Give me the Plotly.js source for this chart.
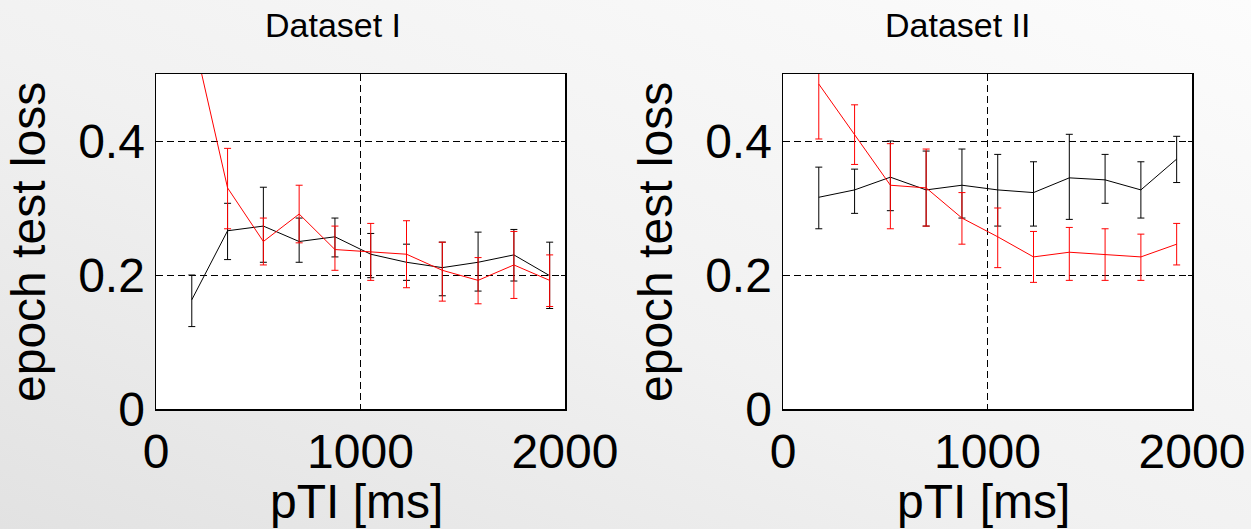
<!DOCTYPE html>
<html>
<head>
<meta charset="utf-8">
<script src="https://cdn.plot.ly/plotly-3.0.1.min.js"></script>
<style>
  html, body { margin: 0; padding: 0; }
  body {
    width: 1251px; height: 529px; overflow: hidden;
    background: linear-gradient(to top right, #e2e2e2 0%, #f1f1f1 45%, #fcfcfc 100%);
  }
  #chart { width: 1251px; height: 529px; }
</style>
</head>
<body>
<div id="chart"></div>
<script>
// ---- data ----
const pTI = [175, 350, 525, 700, 875, 1050, 1225, 1400, 1575, 1750, 1925];

// Dataset I
const d1Black      = [0.163, 0.266, 0.273, 0.250, 0.257, 0.231, 0.219, 0.211, 0.219, 0.230, 0.199];
const d1BlackPlus  = [0.037, 0.041, 0.058, 0.035, 0.028, 0.031, 0.027, 0.038, 0.045, 0.038, 0.050];
const d1BlackMinus = [0.040, 0.043, 0.054, 0.031, 0.030, 0.035, 0.027, 0.042, 0.043, 0.039, 0.049];
const d1Red        = [0.565, 0.330, 0.250, 0.291, 0.238, 0.234, 0.231, 0.207, 0.192, 0.215, 0.192];
const d1RedPlus    = [0.040, 0.059, 0.035, 0.043, 0.035, 0.043, 0.050, 0.042, 0.034, 0.050, 0.038];
const d1RedMinus   = [0.040, 0.061, 0.035, 0.043, 0.031, 0.042, 0.050, 0.046, 0.035, 0.050, 0.039];

// Dataset II
const d2Black      = [0.316, 0.327, 0.346, 0.327, 0.334, 0.327, 0.323, 0.345, 0.342, 0.327, 0.373];
const d2BlackPlus  = [0.045, 0.031, 0.054, 0.058, 0.054, 0.053, 0.046, 0.065, 0.038, 0.042, 0.034];
const d2BlackMinus = [0.047, 0.035, 0.050, 0.054, 0.049, 0.054, 0.050, 0.062, 0.035, 0.042, 0.035];
const d2Red        = [0.485, 0.410, 0.334, 0.330, 0.285, 0.257, 0.227, 0.234, 0.231, 0.227, 0.246];
const d2RedPlus    = [0.082, 0.044, 0.062, 0.058, 0.038, 0.043, 0.038, 0.037, 0.038, 0.034, 0.031];
const d2RedMinus   = [0.082, 0.045, 0.065, 0.057, 0.039, 0.046, 0.038, 0.042, 0.039, 0.035, 0.031];

const xTicks = [0, 1000, 2000];
const yTicks = [0, 0.2, 0.4];
const yTickText = ['0', '0.2', '0.4'];
const titles = ['Dataset I', 'Dataset II'];
const xLabel = 'pTI [ms]';
const yLabel = 'epoch test loss';

// ---- traces ----
function series(x, y, plus, minus, color, xa, ya) {
  return {
    type: 'scatter', mode: 'lines', x: x, y: y,
    xaxis: xa, yaxis: ya, cliponaxis: true,
    line: { color: color, width: 1 },
    error_y: { type: 'data', symmetric: false, array: plus, arrayminus: minus,
               color: color, thickness: 1, width: 3.5 },
    showlegend: false, hoverinfo: 'skip'
  };
}
const data = [
  series(pTI, d1Black, d1BlackPlus, d1BlackMinus, '#000000', 'x', 'y'),
  series(pTI, d1Red, d1RedPlus, d1RedMinus, '#ff0000', 'x', 'y'),
  series(pTI, d2Black, d2BlackPlus, d2BlackMinus, '#000000', 'x2', 'y2'),
  series(pTI, d2Red, d2RedPlus, d2RedMinus, '#ff0000', 'x2', 'y2')
];

const W = 1251, H = 529;
const font = 'Liberation Sans, Arial, sans-serif';
function xax(domain, anchor) {
  return {
    domain: domain, anchor: anchor, range: [0, 2000],
    tickvals: xTicks, ticktext: xTicks.map(String),
    ticks: 'inside', ticklen: 4, tickcolor: '#000',
    tickfont: { family: font, size: 48, color: '#000' },
    showline: true, linecolor: '#000', linewidth: 1.5, mirror: 'ticks',
    showgrid: true, gridcolor: '#000', gridwidth: 1, griddash: '7px,4px',
    zeroline: false, fixedrange: true
  };
}
function yax(domain, anchor) {
  return {
    domain: domain, anchor: anchor, range: [0, 0.5],
    tickvals: yTicks, ticktext: yTickText,
    ticks: 'inside', ticklen: 4, tickcolor: '#000',
    tickfont: { family: font, size: 48, color: '#000' },
    ticklabelstandoff: 0,
    showline: true, linecolor: '#000', linewidth: 1.5, mirror: 'ticks',
    showgrid: true, gridcolor: '#000', gridwidth: 1, griddash: '7px,4px',
    zeroline: false, fixedrange: true
  };
}
const yDom = [120 / H, 455 / H];

const layout = {
  width: W, height: H,
  margin: { l: 0, r: 0, t: 0, b: 0 },
  paper_bgcolor: 'rgba(0,0,0,0)', plot_bgcolor: '#ffffff',
  xaxis: xax([156 / W, 565 / W], 'y'),
  yaxis: yax(yDom, 'x'),
  xaxis2: xax([783 / W, 1192 / W], 'y2'),
  yaxis2: yax(yDom, 'x2'),
  annotations: [
    { text: titles[0], x: 333 / W, y: 1 - 25 / H, xref: 'paper', yref: 'paper',
      xanchor: 'center', yanchor: 'middle', showarrow: false,
      font: { family: font, size: 34, color: '#000' } },
    { text: titles[1], x: 958 / W, y: 1 - 25 / H, xref: 'paper', yref: 'paper',
      xanchor: 'center', yanchor: 'middle', showarrow: false,
      font: { family: font, size: 34, color: '#000' } },
    { text: yLabel, x: 29 / W, y: 1 - 242 / H, xref: 'paper', yref: 'paper', textangle: -90,
      xanchor: 'center', yanchor: 'middle', showarrow: false,
      font: { family: font, size: 48, color: '#000' } },
    { text: yLabel, x: 656 / W, y: 1 - 242 / H, xref: 'paper', yref: 'paper', textangle: -90,
      xanchor: 'center', yanchor: 'middle', showarrow: false,
      font: { family: font, size: 48, color: '#000' } },
    { text: xLabel, x: 356 / W, y: 1 - 501 / H, xref: 'paper', yref: 'paper',
      xanchor: 'center', yanchor: 'middle', showarrow: false,
      font: { family: font, size: 48, color: '#000' } },
    { text: xLabel, x: 983 / W, y: 1 - 501 / H, xref: 'paper', yref: 'paper',
      xanchor: 'center', yanchor: 'middle', showarrow: false,
      font: { family: font, size: 48, color: '#000' } }
  ]
};

Plotly.newPlot('chart', data, layout, { displayModeBar: false, staticPlot: true });
</script>
</body>
</html>
